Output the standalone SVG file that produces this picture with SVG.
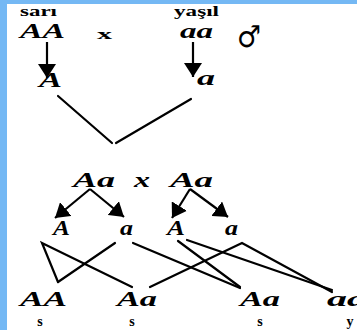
<svg xmlns="http://www.w3.org/2000/svg" width="357" height="330" viewBox="0 0 357 330">
<defs>
<style>
.g{font-family:"Liberation Serif","Times New Roman",serif;font-style:italic;font-weight:bold;font-size:21px;fill:#000}
.lab{font-family:"Liberation Serif","Times New Roman",serif;font-weight:bold;font-size:14px;fill:#000}
.sl{font-family:"Liberation Serif","Times New Roman",serif;font-weight:bold;font-size:14px;fill:#000}
.ln{stroke:#000;stroke-width:2.2;fill:none;stroke-linecap:round}
.ar{stroke:#000;stroke-width:2.2;fill:none;marker-end:url(#head)}
</style>
<marker id="head" viewBox="0 0 14 18" refX="14" refY="9" markerWidth="14" markerHeight="18" markerUnits="userSpaceOnUse" orient="auto">
<path d="M0,0 L14,9 L0,18 Z" fill="#000"/>
</marker>
</defs>
<rect x="0" y="0" width="357" height="330" fill="#74b8f4"/>
<rect x="7" y="4" width="350" height="326" fill="#fff"/>

<g id="p1">
<text class="lab" x="20" y="16" textLength="37" lengthAdjust="spacingAndGlyphs">sarı</text>
<text class="g" x="20" y="38" textLength="45" lengthAdjust="spacingAndGlyphs">AA</text>
</g>
<g id="cross1">
<text class="lab" x="97" y="39" font-size="25" textLength="15" lengthAdjust="spacingAndGlyphs">x</text>
</g>
<g id="p2">
<text class="lab" x="174" y="16" textLength="45" lengthAdjust="spacingAndGlyphs">yaşıl</text>
<text class="g" x="180" y="38" font-weight="normal" textLength="33" lengthAdjust="spacingAndGlyphs">aa</text>
<text x="237" y="47" font-family="DejaVu Sans, sans-serif" font-weight="bold" font-size="30" textLength="24" lengthAdjust="spacingAndGlyphs">♂</text>
</g>
<g id="gam1">
<text class="g" x="39" y="87" textLength="23" lengthAdjust="spacingAndGlyphs">A</text>
<text class="g" x="197" y="85" textLength="18" lengthAdjust="spacingAndGlyphs">a</text>
</g>
<g id="f1a">
<text class="g" x="73" y="187" textLength="42" lengthAdjust="spacingAndGlyphs">Aa</text>
</g>
<g id="cross2">
<text class="g" x="134" y="187" font-weight="normal" textLength="16" lengthAdjust="spacingAndGlyphs">x</text>
</g>
<g id="f1b">
<text class="g" x="170" y="187" textLength="43" lengthAdjust="spacingAndGlyphs">Aa</text>
</g>
<g id="gam2">
<text class="g" x="53" y="235" textLength="17" lengthAdjust="spacingAndGlyphs">A</text>
<text class="g" x="120" y="235" textLength="13" lengthAdjust="spacingAndGlyphs">a</text>
<text class="g" x="167" y="235" textLength="18" lengthAdjust="spacingAndGlyphs">A</text>
<text class="g" x="225" y="235" textLength="13" lengthAdjust="spacingAndGlyphs">a</text>
</g>
<g id="o1">
<text class="g" x="20" y="306" textLength="47" lengthAdjust="spacingAndGlyphs">AA</text>
<text class="sl" x="40" y="326" text-anchor="middle">s</text>
</g>
<g id="o2">
<text class="g" x="117" y="306" textLength="40" lengthAdjust="spacingAndGlyphs">Aa</text>
<text class="sl" x="132" y="326" text-anchor="middle">s</text>
</g>
<g id="o3">
<text class="g" x="240" y="306" textLength="40" lengthAdjust="spacingAndGlyphs">Aa</text>
<text class="sl" x="260" y="326" text-anchor="middle">s</text>
</g>
<g id="o4">
<text class="g" x="327" y="306" font-weight="normal" textLength="40" lengthAdjust="spacingAndGlyphs">aa</text>
<text class="sl" x="350" y="326" text-anchor="middle">y</text>
</g>

<g id="connectors">
<line class="ar" x1="47" y1="42" x2="47" y2="78"/>
<line class="ar" x1="193" y1="42" x2="193" y2="77"/>
<line class="ln" x1="58" y1="96" x2="112" y2="143"/>
<line class="ln" x1="116" y1="143" x2="191" y2="99"/>
<line class="ar" x1="90" y1="189" x2="55" y2="218"/>
<line class="ar" x1="90" y1="189" x2="124" y2="217"/>
<line class="ar" x1="190" y1="189" x2="172" y2="218"/>
<line class="ar" x1="190" y1="189" x2="228" y2="217"/>
<polyline class="ln" points="58,282 42,243 132,287"/>
<line class="ln" x1="58" y1="282" x2="115" y2="243"/>
<line class="ln" x1="133" y1="243" x2="240" y2="288"/>
<polyline class="ln" points="150,287 242,243 332,292"/>
<line class="ln" x1="178" y1="241" x2="240" y2="287"/>
<line class="ln" x1="187" y1="240" x2="332" y2="290"/>
</g>
</svg>
